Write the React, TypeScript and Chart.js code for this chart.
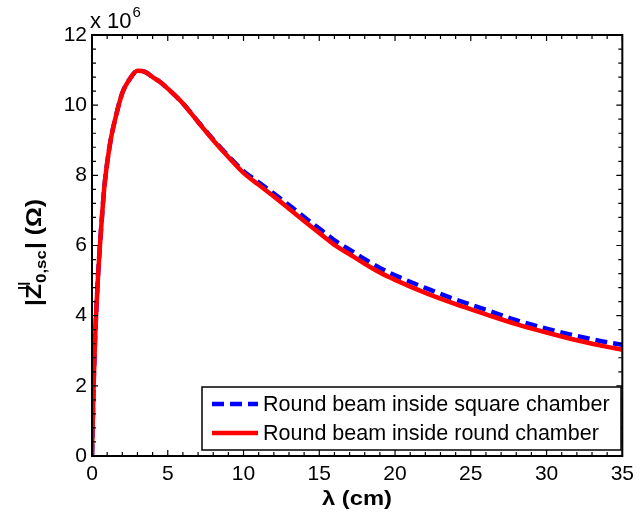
import React, { useEffect, useRef } from "react";
import { Chart, registerables } from "chart.js";

Chart.register(...registerables);

// wavelength λ (cm)
const lambdaCm = [0, 0.1, 0.2, 0.3, 0.4, 0.5, 0.6, 0.8, 1.0, 1.25, 1.5, 2, 2.5, 3, 3.5, 4, 4.5, 5, 6, 7, 8, 9, 10, 11, 12, 13, 14, 15, 16, 17, 18, 19, 20, 22, 24, 26, 28, 30, 32, 34, 35];
// |Z| (x 10^6 Ω), round beam inside round chamber
const roundChamber = [0, 1.9, 3.3, 4.3, 5.15, 5.85, 6.47, 7.6, 8.35, 9.05, 9.55, 10.35, 10.75, 10.98, 10.95, 10.8, 10.66, 10.47, 10.05, 9.52, 9.0, 8.52, 8.07, 7.73, 7.4, 7.05, 6.7, 6.36, 6.02, 5.75, 5.48, 5.23, 5.02, 4.65, 4.33, 4.04, 3.76, 3.52, 3.3, 3.11, 3.03];
// |Z| (x 10^6 Ω), round beam inside square chamber
const squareChamber = [0, 1.9, 3.3, 4.3, 5.15, 5.85, 6.47, 7.6, 8.35, 9.05, 9.55, 10.35, 10.75, 10.98, 10.95, 10.8, 10.66, 10.47, 10.05, 9.53, 9.02, 8.55, 8.12, 7.8, 7.48, 7.15, 6.81, 6.48, 6.15, 5.88, 5.61, 5.36, 5.15, 4.79, 4.46, 4.17, 3.87, 3.63, 3.42, 3.24, 3.17];

const xTicks = [0, 5, 10, 15, 20, 25, 30, 35];
const yTicks = [0, 2, 4, 6, 8, 10, 12];
const xMinorStep = 1;
const yMinorStep = 0.4;

const legendLabels = ["Round beam inside square chamber", "Round beam inside round chamber"];
const xTitle = "λ (cm)";
const yExponent = "6";

const FONT = "'Liberation Sans', Arial, Helvetica, sans-serif";

const decorPlugin = {
  id: "decor",
  afterDatasetsDraw(chart: any) {
    const { ctx, chartArea: a, scales } = chart;
    const x = scales.x;
    const y = scales.y;
    ctx.save();
    ctx.strokeStyle = "#000";
    ctx.lineWidth = 2;
    ctx.strokeRect(a.left, a.top, a.right - a.left, a.bottom - a.top);

    ctx.lineWidth = 1.2;
    ctx.beginPath();
    const xMin = xTicks[0], xMax = xTicks[xTicks.length - 1];
    const nx = Math.round((xMax - xMin) / xMinorStep);
    for (let i = 0; i <= nx; i++) {
      const v = xMin + i * xMinorStep;
      const major = xTicks.some((t) => Math.abs(t - v) < 1e-9);
      const len = major ? 6 : 4;
      const px = x.getPixelForValue(v);
      ctx.moveTo(px, a.bottom);
      ctx.lineTo(px, a.bottom - len);
      ctx.moveTo(px, a.top);
      ctx.lineTo(px, a.top + len);
    }
    const yMin = yTicks[0], yMax = yTicks[yTicks.length - 1];
    const ny = Math.round((yMax - yMin) / yMinorStep);
    for (let i = 0; i <= ny; i++) {
      const v = yMin + i * yMinorStep;
      const major = yTicks.some((t) => Math.abs(t - v) < 1e-9);
      const len = major ? 6 : 4;
      const py = y.getPixelForValue(v);
      ctx.moveTo(a.left, py);
      ctx.lineTo(a.left + len, py);
      ctx.moveTo(a.right, py);
      ctx.lineTo(a.right - len, py);
    }
    ctx.stroke();

    // exponent label
    ctx.fillStyle = "#000";
    ctx.textBaseline = "alphabetic";
    ctx.textAlign = "left";
    ctx.font = `22px ${FONT}`;
    ctx.fillText("x 10", 90, 28);
    const w10 = ctx.measureText("x 10").width;
    ctx.font = `15px ${FONT}`;
    ctx.fillText(yExponent, 90 + w10 + 1, 17);

    // x title
    ctx.font = `bold 20px ${FONT}`;
    const xw = ctx.measureText(xTitle).width;
    const targetXW = 70;
    ctx.save();
    ctx.translate(357, 505);
    ctx.scale(targetXW / xw, 1);
    ctx.textAlign = "center";
    ctx.fillText(xTitle, 0, 0);
    ctx.restore();

    // y title: |Z^||_{0,sc}| (Ω)
    const parts = [
      { t: "|Z", f: `bold 22px ${FONT}`, dy: 0, adv: true },
      { t: "||", f: `bold 13px ${FONT}`, dy: -14, adv: false },
      { t: "0,sc", f: `bold 15px ${FONT}`, dy: 5, adv: true },
      { t: "| (Ω)", f: `bold 22px ${FONT}`, dy: 0, adv: true },
    ];
    let total = 0;
    const widths: number[] = [];
    for (const p of parts) {
      ctx.font = p.f;
      const w = ctx.measureText(p.t).width;
      widths.push(w);
      if (p.adv) total += w + 1;
    }
    const targetYW = 108;
    const sy = targetYW / total;
    ctx.save();
    ctx.translate(41, 252);
    ctx.rotate(-Math.PI / 2);
    ctx.scale(sy, 1);
    let cx = -total / 2;
    parts.forEach((p, i) => {
      ctx.font = p.f;
      ctx.textAlign = "left";
      if (!p.adv) {
        ctx.fillText(p.t, cx - widths[i] + 1, p.dy);
      } else {
        ctx.fillText(p.t, cx, p.dy);
        cx += widths[i] + 1;
      }
    });
    ctx.restore();

    // legend
    const lx = 202, ly = 387, lw = 419, lh = 63;
    ctx.fillStyle = "#fff";
    ctx.fillRect(lx, ly, lw, lh);
    ctx.strokeStyle = "#000";
    ctx.lineWidth = 1.5;
    ctx.strokeRect(lx, ly, lw, lh);
    const rows = [
      { y: 404, color: "#0000ff", dash: [12, 6] },
      { y: 433, color: "#ff0000", dash: [] as number[] },
    ];
    rows.forEach((r, i) => {
      ctx.beginPath();
      ctx.setLineDash(r.dash);
      ctx.strokeStyle = r.color;
      ctx.lineWidth = 4.5;
      ctx.lineCap = "butt";
      ctx.moveTo(212, r.y);
      ctx.lineTo(258, r.y);
      ctx.stroke();
      ctx.setLineDash([]);
      ctx.fillStyle = "#000";
      ctx.font = `21.5px ${FONT}`;
      ctx.textBaseline = "middle";
      ctx.textAlign = "left";
      ctx.fillText(legendLabels[i], 263, r.y + 1);
    });
    ctx.restore();
  },
};

export default function App() {
  const ref = useRef<HTMLCanvasElement | null>(null);
  useEffect(() => {
    if (!ref.current) return;
    const chart = new Chart(ref.current, {
      type: "line",
      data: {
        datasets: [
          {
            label: legendLabels[0],
            data: lambdaCm.map((l, i) => ({ x: l, y: squareChamber[i] })),
            borderColor: "#0000ff",
            borderWidth: 4.5,
            borderDash: [12, 6],
            borderCapStyle: "butt",
            pointRadius: 0,
            fill: false,
            cubicInterpolationMode: "monotone",
            order: 1,
          },
          {
            label: legendLabels[1],
            data: lambdaCm.map((l, i) => ({ x: l, y: roundChamber[i] })),
            borderColor: "#ff0000",
            borderWidth: 4.5,
            pointRadius: 0,
            fill: false,
            cubicInterpolationMode: "monotone",
            order: 0,
          },
        ],
      },
      options: {
        animation: false,
        responsive: false,
        maintainAspectRatio: false,
        layout: { padding: { left: 0, top: 35, right: 15, bottom: 0 } },
        plugins: { legend: { display: false }, tooltip: { enabled: false }, title: { display: false } },
        scales: {
          x: {
            type: "linear",
            min: 0,
            max: 35,
            afterFit: (s: any) => { s.height = 63; },
            grid: { display: false, drawTicks: false },
            border: { display: false },
            ticks: {
              stepSize: 5,
              padding: 6,
              color: "#000",
              font: { family: FONT, size: 21 },
              maxRotation: 0,
              callback: (v: any) => (xTicks.includes(v) ? String(v) : ""),
            },
          },
          y: {
            type: "linear",
            min: 0,
            max: 12,
            afterFit: (s: any) => { s.width = 92; },
            grid: { display: false, drawTicks: false },
            border: { display: false },
            ticks: {
              stepSize: 2,
              padding: 5,
              color: "#000",
              font: { family: FONT, size: 21 },
              callback: (v: any) => (yTicks.includes(v) ? String(v) : ""),
            },
          },
        },
      },
      plugins: [decorPlugin],
    });
    return () => chart.destroy();
  }, []);
  return (
    <div style={{ position: "absolute", left: 0, top: 0, width: 640, height: 519, background: "#fff" }}>
      <canvas ref={ref} width={640} height={519} style={{ display: "block", width: 640, height: 519 }} />
    </div>
  );
}
